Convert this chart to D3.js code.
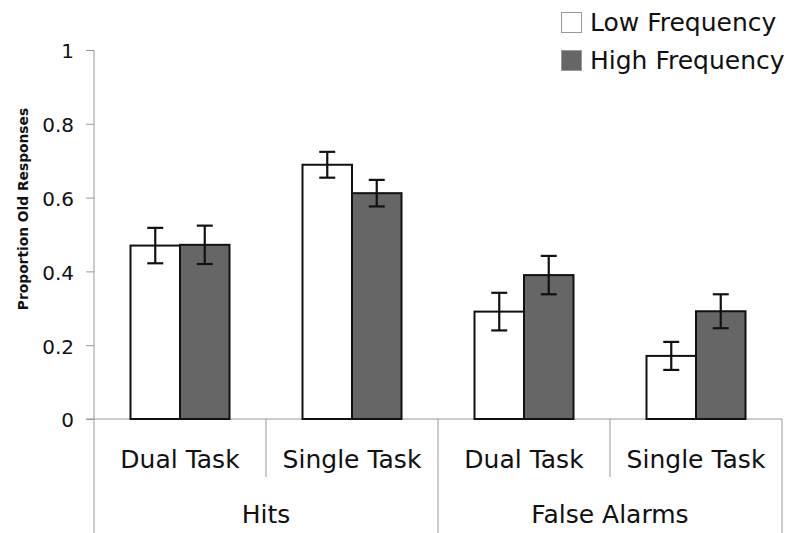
<!DOCTYPE html>
<html><head><meta charset="utf-8">
<script src="https://cdn.jsdelivr.net/npm/d3@7"></script>
<style>body{margin:0;background:#fff;} text{font-family:"DejaVu Sans",Verdana,sans-serif;fill:#111;}</style>
</head><body><svg id="c" width="793" height="533"></svg>
<script>
const groups = ["Hits", "False Alarms"];
const conditions = ["Dual Task", "Single Task", "Dual Task", "Single Task"];
const series = ["Low Frequency", "High Frequency"];
const lowValues = [0.47, 0.689, 0.291, 0.171];
const highValues = [0.472, 0.612, 0.39, 0.292];
const lowErr = [0.048, 0.035, 0.051, 0.038];
const highErr = [0.052, 0.036, 0.052, 0.046];
const yTicks = [0, 0.2, 0.4, 0.6, 0.8, 1];
const colors = ["#ffffff", "#666666"];

(function(){
const svg = d3.select("#c");
const mLeft = 94, mRight = 782, mTop = 50, mBottom = 419;
const y = d3.scaleLinear().domain([0, 1]).range([mBottom, mTop]);
const x = d3.scaleBand().domain(d3.range(conditions.length)).range([mLeft, mRight]).paddingInner(0).paddingOuter(0);
const xs = d3.scaleBand().domain(series).range([0, 99]);
const barOffset = (x.bandwidth() - 99) / 2;

// y axis
const yAxis = d3.axisLeft(y).tickValues(yTicks).tickSize(8).tickPadding(12)
  .tickFormat(d => d === 0 ? "0" : d === 1 ? "1" : d3.format(".1f")(d));
const ya = svg.append("g").attr("transform", `translate(${mLeft},0)`).call(yAxis);
ya.select(".domain").remove();
ya.selectAll(".tick line").attr("stroke", "#999");
ya.selectAll(".tick text").attr("font-size", 20).attr("font-family", '"DejaVu Sans",Verdana,sans-serif').attr("fill", "#111").attr("dy", "0.39em");
svg.append("line").attr("x1", mLeft).attr("x2", mLeft).attr("y1", mTop).attr("y2", 533).attr("stroke", "#999");

// x axis line
svg.append("line").attr("x1", mLeft - 8).attr("x2", mRight).attr("y1", mBottom).attr("y2", mBottom).attr("stroke", "#999");
conditions.forEach((c, i) => {
  const xr = x(i) + x.bandwidth();
  const isGroupEdge = (i % 2 === 1);
  svg.append("line").attr("x1", xr).attr("x2", xr).attr("y1", mBottom).attr("y2", isGroupEdge ? 533 : 477).attr("stroke", "#999");
  svg.append("text").attr("x", x(i) + x.bandwidth() / 2).attr("y", 468).attr("text-anchor", "middle").attr("font-size", 25).text(c);
});
groups.forEach((g, gi) => {
  const cx = (x(gi * 2) + x(gi * 2 + 1) + x.bandwidth()) / 2;
  svg.append("text").attr("x", cx).attr("y", 523).attr("text-anchor", "middle").attr("font-size", 25).text(g);
});

// bars
const allVals = [lowValues, highValues];
const allErr = [lowErr, highErr];
series.forEach((s, si) => {
  const bx = i => x(i) + barOffset + xs(s);
  svg.append("g").selectAll("rect").data(allVals[si]).join("rect")
    .attr("x", (d, i) => bx(i)).attr("width", xs.bandwidth())
    .attr("y", d => y(d)).attr("height", d => y(0) - y(d))
    .attr("fill", colors[si]).attr("stroke", "#111").attr("stroke-width", 2);
});
series.forEach((s, si) => {
  const g = svg.append("g").attr("stroke", "#111").attr("stroke-width", 2.2);
  allVals[si].forEach((v, i) => {
    const cx = x(i) + barOffset + xs(s) + xs.bandwidth() / 2;
    const e = allErr[si][i];
    g.append("line").attr("x1", cx).attr("x2", cx).attr("y1", y(v + e)).attr("y2", y(v - e));
    g.append("line").attr("x1", cx - 8).attr("x2", cx + 8).attr("y1", y(v + e)).attr("y2", y(v + e));
    g.append("line").attr("x1", cx - 8).attr("x2", cx + 8).attr("y1", y(v - e)).attr("y2", y(v - e));
  });
});

// y label
svg.append("text").attr("transform", "translate(28,209) rotate(-90)").attr("text-anchor", "middle")
  .attr("font-size", 13.8).attr("font-weight", "bold").text("Proportion Old Responses");

// legend
series.forEach((s, si) => {
  const ly = 12 + si * 38;
  svg.append("rect").attr("x", 561.5).attr("y", ly + 0.5).attr("width", 20).attr("height", 20)
    .attr("fill", colors[si]).attr("stroke", "#999");
  svg.append("text").attr("x", 590).attr("y", ly + 18.5).attr("font-size", 25).text(s);
});
})();
</script></body></html>
